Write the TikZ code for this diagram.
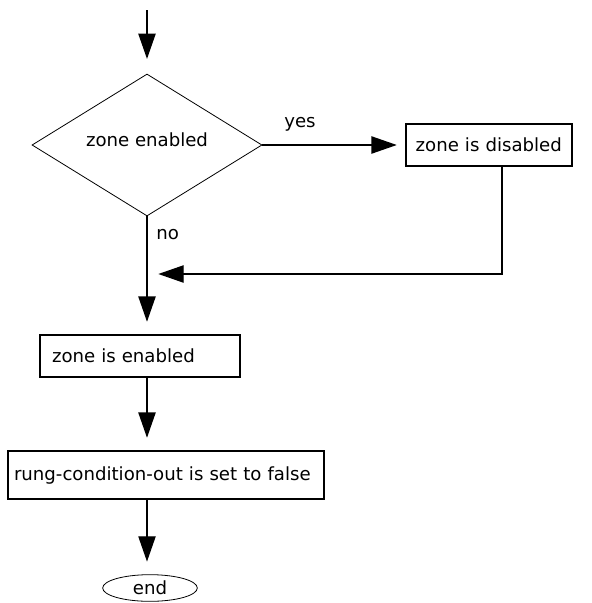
\documentclass[tikz,border=0pt]{standalone}
\usepackage{fontspec}
\setmainfont{DejaVu Sans}
\usetikzlibrary{arrows.meta,shapes.geometric}
\tikzset{
  flow text/.style={font=\fontsize{13.6}{16}\selectfont, text=black},
  flow box/.style={flow text, draw=black, line width=.9pt, rectangle, inner xsep=0pt, align=left},
  flow decision/.style={flow text, draw=black, line width=.6pt, diamond, inner sep=0pt,
    minimum width=172.5pt, minimum height=106.5pt},
  flow end/.style={flow text, draw=black, line width=.6pt, ellipse, inner sep=0pt,
    minimum width=71pt, minimum height=20pt},
  flow line/.style={draw=black, line width=.9pt},
  flow arrow/.style={flow line, shorten >=7.5pt,
    -{Triangle[length=19pt,width=13pt]}},
}

\begin{document}
\begin{tikzpicture}[x=.75pt,y=-.75pt]
  \useasboundingbox (0,0) rectangle (592,603);

  \coordinate (start) at (147,10);
  \node[flow decision] (dec) at (147,145) {};
  \node[flow text] (dectext) at (147,140) {zone enabled};
  \node[flow text] (yes) at (300,124) {yes};
  \node[flow text, anchor=west, inner sep=0pt] (no) at (156,235) {no};

  \node[flow box, minimum width=124.5pt, minimum height=31.5pt, text width=110pt] (disabled)
    at (489,145) {zone is disabled};
  \coordinate (bend) at (502,274);
  \coordinate (join) at (147,274);

  \node[flow box, minimum width=150pt, minimum height=31.5pt, text width=132pt] (enabled)
    at (140,356) {zone is enabled};
  \node[flow box, minimum width=237pt, minimum height=36pt, text width=228pt] (rung)
    at (166,475) {rung-condition-out is set to false};
  \node[flow end] (end) at (150,588) {end};

  \draw[flow arrow, shorten >=11pt] (start) -- (dec.north);
  \draw[flow arrow, shorten >=6.5pt] (dec.east) -- (dec.east -| disabled.west);
  \draw[flow arrow, shorten >=8.5pt] (disabled.south -| bend) -- (bend) -- (join);
  \draw[flow arrow, shorten >=9.5pt] (dec.south) -- (dec.south |- enabled.north);
  \draw[flow arrow, shorten >=9.5pt] (enabled.south -| dec) -- (rung.north -| dec);
  \draw[flow arrow, shorten >=9.5pt] (rung.south -| dec) -- (end.north -| dec);
\end{tikzpicture}
\end{document}
